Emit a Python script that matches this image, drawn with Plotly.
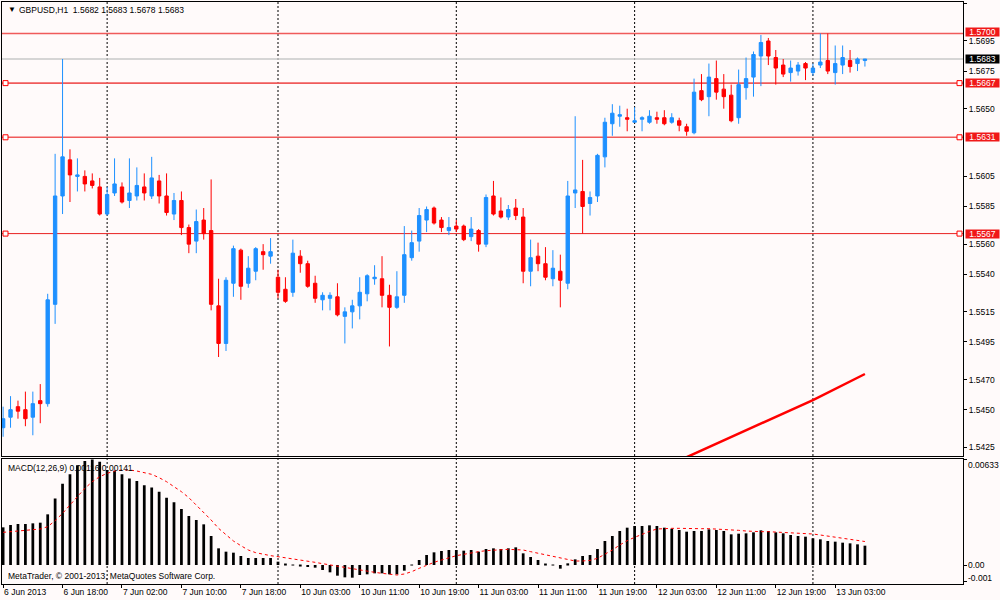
import plotly.graph_objects as go

# GBPUSD H1 bars, 6 Jun 2013 10:00 .. 13 Jun 2013 07:00
bar_open = [1.5438, 1.5445, 1.5452, 1.5450, 1.5445, 1.5456, 1.5454, 1.5520, 1.5592, 1.5616,
            1.5605, 1.5605, 1.5602, 1.5598, 1.5580, 1.5594, 1.5598, 1.5589, 1.5592, 1.5598,
            1.5592, 1.5602, 1.5592, 1.5580, 1.5589, 1.5571, 1.5562, 1.5576, 1.5569, 1.5519,
            1.5494, 1.5534, 1.5556, 1.5534, 1.5542, 1.5555, 1.5552, 1.5538, 1.5530, 1.5528,
            1.5552, 1.5547, 1.5534, 1.5523, 1.5524, 1.5525, 1.5512, 1.5515, 1.5519, 1.5527,
            1.5537, 1.5537, 1.5526, 1.5518, 1.5526, 1.5551, 1.5562, 1.5576, 1.5584, 1.5576,
            1.5569, 1.5572, 1.5572, 1.5565, 1.5569, 1.5560, 1.5592, 1.5582, 1.5578, 1.5584,
            1.5578, 1.5542, 1.5552, 1.5547, 1.5537, 1.5542, 1.5534, 1.5594, 1.5595, 1.5587,
            1.5592, 1.5618, 1.5640, 1.5645, 1.5644, 1.5641, 1.5643, 1.5641, 1.5644, 1.5644,
            1.5641, 1.5642, 1.5638, 1.5634, 1.5662, 1.5658, 1.5670, 1.5663, 1.5659, 1.5644,
            1.5664, 1.5671, 1.5685, 1.5695, 1.5684, 1.5679, 1.5674, 1.5675, 1.5680, 1.5674,
            1.5679, 1.5682, 1.5674, 1.5679, 1.5682, 1.5680, 1.5682]
bar_high = [1.5452, 1.5459, 1.5456, 1.5462, 1.5462, 1.5467, 1.5527, 1.5620, 1.5683, 1.5623,
            1.5617, 1.5609, 1.5607, 1.5604, 1.5598, 1.5617, 1.5601, 1.5617, 1.5611, 1.5607,
            1.5618, 1.5606, 1.5607, 1.5594, 1.5595, 1.5573, 1.5583, 1.5584, 1.5603, 1.5537,
            1.5538, 1.5559, 1.5557, 1.5552, 1.5558, 1.5560, 1.5564, 1.5543, 1.5538, 1.5563,
            1.5556, 1.5549, 1.5539, 1.5528, 1.5528, 1.5534, 1.5518, 1.5523, 1.5538, 1.5540,
            1.5546, 1.5552, 1.5533, 1.5542, 1.5572, 1.5569, 1.5584, 1.5585, 1.5585, 1.5578,
            1.5578, 1.5576, 1.5573, 1.5578, 1.5570, 1.5593, 1.5602, 1.5591, 1.5586, 1.5590,
            1.5584, 1.5563, 1.5561, 1.5558, 1.5556, 1.5553, 1.5602, 1.5645, 1.5616, 1.5595,
            1.5620, 1.5644, 1.5653, 1.5652, 1.5650, 1.5651, 1.5645, 1.5649, 1.5648, 1.5649,
            1.5647, 1.5644, 1.5640, 1.5670, 1.5673, 1.5680, 1.5682, 1.5673, 1.5666, 1.5676,
            1.5684, 1.5688, 1.5699, 1.5697, 1.5689, 1.5683, 1.5682, 1.5681, 1.5681, 1.5680,
            1.5700, 1.5700, 1.5692, 1.5692, 1.5689, 1.5684, 1.5683]
bar_low = [1.5432, 1.5438, 1.5444, 1.5439, 1.5433, 1.5441, 1.5452, 1.5507, 1.5580, 1.5588,
           1.5595, 1.5595, 1.5597, 1.5579, 1.5579, 1.5592, 1.5587, 1.5584, 1.5589, 1.5589,
           1.5590, 1.5587, 1.5579, 1.5576, 1.5566, 1.5554, 1.5554, 1.5563, 1.5516, 1.5485,
           1.5489, 1.5525, 1.5523, 1.5531, 1.5536, 1.5543, 1.5547, 1.5524, 1.5521, 1.5525,
           1.5541, 1.5531, 1.5521, 1.5516, 1.5516, 1.5512, 1.5494, 1.5504, 1.5510, 1.5522,
           1.5533, 1.5518, 1.5492, 1.5517, 1.5521, 1.5549, 1.5555, 1.5568, 1.5573, 1.5568,
           1.5566, 1.5568, 1.5562, 1.5562, 1.5555, 1.5558, 1.5579, 1.5577, 1.5576, 1.5576,
           1.5534, 1.5532, 1.5542, 1.5536, 1.5532, 1.5518, 1.5530, 1.5584, 1.5567, 1.5579,
           1.5588, 1.5611, 1.5632, 1.5638, 1.5635, 1.5641, 1.5635, 1.5640, 1.5640, 1.5639,
           1.5640, 1.5635, 1.5632, 1.5633, 1.5655, 1.5645, 1.5656, 1.5650, 1.5641, 1.5640,
           1.5656, 1.5658, 1.5665, 1.5679, 1.5666, 1.5671, 1.5668, 1.5672, 1.5669, 1.5672,
           1.5677, 1.5673, 1.5666, 1.5673, 1.5674, 1.5675, 1.5678]
bar_close = [1.5444, 1.5450, 1.5449, 1.5444, 1.5454, 1.5454, 1.5523, 1.5592, 1.5618, 1.5606,
             1.5606, 1.5600, 1.5599, 1.5580, 1.5593, 1.5600, 1.5588, 1.5594, 1.5599, 1.5594,
             1.5604, 1.5592, 1.5581, 1.5589, 1.5571, 1.5560, 1.5575, 1.5567, 1.5520, 1.5494,
             1.5536, 1.5557, 1.5532, 1.5544, 1.5557, 1.5553, 1.5555, 1.5528, 1.5522, 1.5554,
             1.5547, 1.5532, 1.5524, 1.5526, 1.5526, 1.5513, 1.5515, 1.5519, 1.5528, 1.5539,
             1.5538, 1.5526, 1.5518, 1.5525, 1.5553, 1.5561, 1.5579, 1.5583, 1.5574, 1.5571,
             1.5571, 1.5570, 1.5563, 1.5570, 1.5560, 1.5591, 1.5580, 1.5578, 1.5583, 1.5579,
             1.5542, 1.5551, 1.5547, 1.5538, 1.5544, 1.5536, 1.5592, 1.5596, 1.5585, 1.5591,
             1.5619, 1.5641, 1.5647, 1.5646, 1.5643, 1.5642, 1.5644, 1.5645, 1.5643, 1.5640,
             1.5644, 1.5639, 1.5635, 1.5661, 1.5656, 1.5671, 1.5661, 1.5658, 1.5642, 1.5666,
             1.5670, 1.5686, 1.5694, 1.5685, 1.5677, 1.5673, 1.5677, 1.5679, 1.5677, 1.5677,
             1.5681, 1.5675, 1.5680, 1.5684, 1.5678, 1.5683, 1.5683]

# MACD(12,26,9): main line (histogram) and signal
macd = [0.00226, 0.00240, 0.00246, 0.00246, 0.00250, 0.00254, 0.00304, 0.00399, 0.00487, 0.00544,
        0.00598, 0.00624, 0.00633, 0.00620, 0.00570, 0.00565, 0.00544, 0.00519, 0.00504, 0.00479,
        0.00465, 0.00439, 0.00404, 0.00377, 0.00336, 0.00294, 0.00270, 0.00244, 0.00174, 0.00100,
        0.00080, 0.00074, 0.00054, 0.00042, 0.00042, 0.00042, 0.00042, 0.00020, 0.00003, -0.00003,
        -0.00005, -0.00012, -0.00016, -0.00030, -0.00044, -0.00064, -0.00074, -0.00076, -0.00060, -0.00056,
        -0.00050, -0.00050, -0.00056, -0.00056, -0.00034, -0.00002, 0.00030, 0.00060, 0.00076, 0.00084,
        0.00090, 0.00090, 0.00086, 0.00090, 0.00080, 0.00096, 0.00100, 0.00096, 0.00100, 0.00106,
        0.00070, 0.00048, 0.00030, 0.00006, -0.00003, -0.00022, 0.00010, 0.00034, 0.00054, 0.00060,
        0.00096, 0.00144, 0.00174, 0.00204, 0.00224, 0.00234, 0.00234, 0.00238, 0.00234, 0.00224,
        0.00218, 0.00210, 0.00200, 0.00204, 0.00204, 0.00214, 0.00210, 0.00204, 0.00184, 0.00188,
        0.00190, 0.00196, 0.00208, 0.00204, 0.00196, 0.00190, 0.00180, 0.00174, 0.00170, 0.00160,
        0.00154, 0.00144, 0.00140, 0.00134, 0.00130, 0.00124, 0.00116]
signal = [0.00196, 0.00202, 0.00204, 0.00208, 0.00212, 0.00216, 0.00230, 0.00266, 0.00310, 0.00360,
          0.00410, 0.00460, 0.00500, 0.00530, 0.00550, 0.00564, 0.00570, 0.00570, 0.00564, 0.00556,
          0.00544, 0.00524, 0.00500, 0.00470, 0.00440, 0.00404, 0.00360, 0.00320, 0.00270, 0.00220,
          0.00180, 0.00144, 0.00116, 0.00090, 0.00074, 0.00064, 0.00056, 0.00050, 0.00044, 0.00038,
          0.00030, 0.00024, 0.00016, 0.00008, 0.00000, -0.00008, -0.00016, -0.00024, -0.00030, -0.00038,
          -0.00044, -0.00050, -0.00054, -0.00060, -0.00054, -0.00040, -0.00020, 0.00000, 0.00016, 0.00030,
          0.00044, 0.00056, 0.00064, 0.00074, 0.00080, 0.00086, 0.00090, 0.00094, 0.00094, 0.00092,
          0.00090, 0.00080, 0.00070, 0.00060, 0.00050, 0.00040, 0.00030, 0.00024, 0.00024, 0.00028,
          0.00040, 0.00064, 0.00090, 0.00120, 0.00146, 0.00166, 0.00186, 0.00202, 0.00216, 0.00220,
          0.00220, 0.00220, 0.00218, 0.00218, 0.00218, 0.00218, 0.00216, 0.00216, 0.00212, 0.00208,
          0.00204, 0.00200, 0.00200, 0.00200, 0.00198, 0.00196, 0.00192, 0.00188, 0.00186, 0.00186,
          0.00180, 0.00174, 0.00166, 0.00160, 0.00154, 0.00146, 0.00141]

# slow moving average, only its tail is inside the price range
ma_bar = [91, 99, 109, 116]
ma_value = [1.54162, 1.54339, 1.54564, 1.54737]

time_ticks = [0, 8, 16, 24, 32, 40, 48, 56, 64, 72, 80, 88, 96, 104, 112]
time_labels = ["6 Jun 2013", "6 Jun 18:00", "7 Jun 02:00", "7 Jun 10:00", "7 Jun 18:00",
               "10 Jun 03:00", "10 Jun 11:00", "10 Jun 19:00", "11 Jun 03:00", "11 Jun 11:00",
               "11 Jun 19:00", "12 Jun 03:00", "12 Jun 11:00", "12 Jun 19:00", "13 Jun 03:00"]
day_starts = [14, 37, 61, 85, 109]

# 1.5630 sits under the 1.5631 level label, so it is left out
price_ticks = [1.5720, 1.5695, 1.5675, 1.5650, 1.5605, 1.5585, 1.5560,
               1.5540, 1.5515, 1.5495, 1.5470, 1.5450, 1.5425]
macd_ticks = [0.00633, 0.0, -0.001]
macd_ticktext = ["0.00633", "0.00", "-0.001"]

levels = [1.5700, 1.5667, 1.5631, 1.5567]
anchored_levels = [1.5667, 1.5631, 1.5567]
bid = 1.5683

bars = list(range(len(bar_close)))
xr = [-0.15, 129.2]
FONT = "Liberation Sans"
FS = 8.5

fig = go.Figure()
fig.add_trace(go.Candlestick(
    x=bars, open=bar_open, high=bar_high, low=bar_low, close=bar_close,
    increasing=dict(line=dict(color="#1E90FF", width=1), fillcolor="#1E90FF"),
    decreasing=dict(line=dict(color="#FF0000", width=1), fillcolor="#FF0000"),
    whiskerwidth=0, xaxis="x", yaxis="y", hoverinfo="skip", showlegend=False,
))
fig.add_trace(go.Scatter(
    x=ma_bar, y=ma_value, mode="lines", line=dict(color="#FF0000", width=2.5),
    xaxis="x", yaxis="y", hoverinfo="skip", showlegend=False,
))
fig.add_trace(go.Bar(
    x=bars, y=macd, width=0.37, marker=dict(color="black", line=dict(width=0)),
    xaxis="x2", yaxis="y2", hoverinfo="skip", showlegend=False,
))
fig.add_trace(go.Scatter(
    x=bars, y=signal, mode="lines", line=dict(color="#FF0000", width=1, dash="dot"),
    xaxis="x2", yaxis="y2", hoverinfo="skip", showlegend=False,
))

shapes = []
for d in day_starts:
    shapes.append(dict(type="line", xref="x", yref="paper", x0=d, x1=d, y0=0, y1=1,
                       line=dict(color="black", width=1, dash="2px,2px"), layer="below"))
shapes.append(dict(type="line", xref="paper", yref="y", x0=0, x1=1, y0=bid, y1=bid,
                   line=dict(color="#C8C8C8", width=1.5), layer="below"))
for lv in levels:
    thin = lv == levels[-1]
    shapes.append(dict(type="line", xref="paper", yref="y", x0=0, x1=1, y0=lv, y1=lv,
                       line=dict(color="#E82020" if thin else "#F05A5A", width=1 if thin else 1.6),
                       layer="below"))
for lv in anchored_levels:
    for side, (a, b) in ((0, (1, 6)), (1, (-6, -1))):
        shapes.append(dict(type="rect", xref="paper", xsizemode="pixel", xanchor=side, x0=a, x1=b,
                           yref="y", ysizemode="pixel", yanchor=lv, y0=-2.5, y1=2.5,
                           line=dict(color="#FF0000", width=1), fillcolor="white"))

annotations = [
    dict(text="▼", xref="paper", yref="paper", x=0.004, y=1, xanchor="left", yanchor="top",
         yshift=-1, showarrow=False, font=dict(size=8, color="black", family=FONT)),
    dict(text="GBPUSD,H1  1.5682 1.5683 1.5678 1.5683", xref="paper", yref="paper", x=0.0156, y=1,
         xanchor="left", yanchor="top", yshift=-1, showarrow=False,
         font=dict(size=FS, color="black", family=FONT)),
    dict(text="MACD(12,26,9) 0.00116 0.00141", xref="paper", yref="paper", x=0.004, y=0.2156,
         xanchor="left", yanchor="top", yshift=-2, showarrow=False,
         font=dict(size=FS, color="black", family=FONT)),
    dict(text="MetaTrader, © 2001-2013, MetaQuotes Software Corp.", xref="paper", yref="paper",
         x=0.004, y=0, xanchor="left", yanchor="bottom", yshift=1, showarrow=False,
         font=dict(size=FS, color="black", family=FONT)),
]
for lv in levels:
    annotations.append(dict(text=f"{lv:.4f}", xref="paper", yref="y", x=1, y=lv, xanchor="left",
                            xshift=2, yshift=1 if lv == levels[0] else 0, showarrow=False,
                            bgcolor="#F01818", borderpad=0, width=33, height=8,
                            font=dict(size=FS, color="white", family=FONT)))
annotations.append(dict(text=f"{bid:.4f}", xref="paper", yref="y", x=1, y=bid, xanchor="left",
                        xshift=2, showarrow=False, bgcolor="black", borderpad=0,
                        width=33, height=8,
                        font=dict(size=FS, color="white", family=FONT)))
for v, t, dy in zip(macd_ticks, macd_ticktext, (-5, 0, 4)):
    annotations.append(dict(text=t, xref="paper", yref="y2", x=1, y=v, xanchor="left",
                            xshift=3, yshift=dy, showarrow=False,
                            font=dict(size=FS, color="black", family=FONT)))

frame = dict(showline=True, mirror=True, linecolor="black", linewidth=1,
             showgrid=False, zeroline=False)

fig.update_layout(
    width=1000, height=600,
    margin=dict(l=2, r=37, t=2, b=16),
    paper_bgcolor="#FFFAFA", plot_bgcolor="#FFFAFA",
    font=dict(family=FONT, size=FS, color="black"),
    showlegend=False, hovermode=False, boxgap=0.35,
    xaxis=dict(domain=[0, 1], anchor="y", range=xr, showticklabels=False, ticks="",
               rangeslider=dict(visible=False), **frame),
    yaxis=dict(domain=[0.2199, 1], anchor="x", side="right", range=[1.54192, 1.57209],
               tickvals=price_ticks, tickformat=".4f", ticks="outside", ticklen=3,
               tickcolor="black", **frame),
    xaxis2=dict(domain=[0, 1], anchor="y2", matches="x", range=xr, tickvals=time_ticks,
                ticktext=time_labels, ticks="outside", ticklen=3, tickcolor="black",
                tickangle=0, ticklabelposition="outside right", **frame),
    yaxis2=dict(domain=[0, 0.2156], anchor="x2", side="right", range=[-0.00114, 0.00639],
                tickvals=macd_ticks, showticklabels=False, ticks="outside", ticklen=3,
                tickcolor="black", **frame),
    shapes=shapes,
    annotations=annotations,
)

# the page body has a default 8px margin; drop it so the chart sits at the window corner
fig.write_html("out.html", config={"displayModeBar": False},
               post_script="document.body.style.margin='0';")
